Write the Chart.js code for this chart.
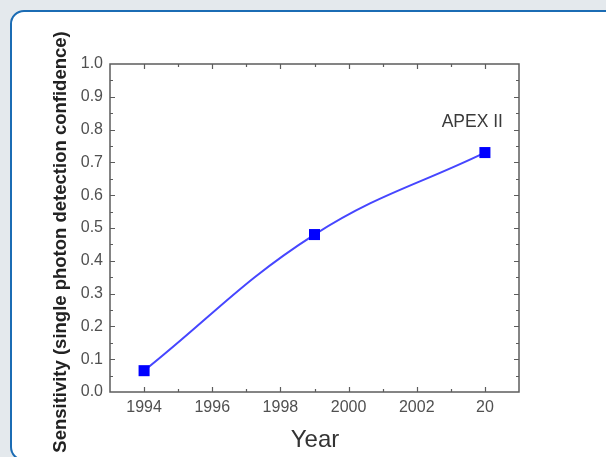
<!DOCTYPE html>
<html>
<head>
<meta charset="utf-8">
<script src="https://cdn.jsdelivr.net/npm/chart.js@4.4.0/dist/chart.umd.min.js"></script>
<style>
  html, body { margin: 0; padding: 0; }
  body { width: 606px; height: 457px; background: #e4e9ed; overflow: hidden; position: relative; }
  .panel { position: absolute; left: 10px; top: 10px; width: 610px; height: 451px; background: #fff;
           border: 2px solid #1b6cb4; border-radius: 14px; box-sizing: border-box; }
  #chart { position: absolute; left: 0; top: 0; }
</style>
</head>
<body>
<div class="panel"></div>
<canvas id="chart" width="606" height="457"></canvas>
<script>
// Sensitivity by year
const years = [1994, 1999, 2004]
const sensitivity = [0.065, 0.48, 0.73]

// axis ticks
const xTickValues = [1994, 1996, 1998, 2000, 2002, 2004]
const xTickLabels = ['1994', '1996', '1998', '2000', '2002', '20']
const yTickValues = [0, 0.1, 0.2, 0.3, 0.4, 0.5, 0.6, 0.7, 0.8, 0.9, 1.0]
const yTickLabels = ['0.0', '0.1', '0.2', '0.3', '0.4', '0.5', '0.6', '0.7', '0.8', '0.9', '1.0']

const xMin = 1993
const xMax = 2005
const pointLabel = 'APEX II'
const xTitle = 'Year'
const yTitle = 'Sensitivity (single photon detection confidence)'

const FONT = "'Liberation Sans', Arial, sans-serif"

// frame box + inward ticks on all four sides (origin style)
const frameTicks = {
  id: 'frameTicks',
  beforeDatasetsDraw(chart) {
    const { ctx, chartArea: a, scales: { x, y } } = chart
    ctx.save()
    ctx.strokeStyle = '#5c5c5c'
    ctx.lineWidth = 1.5
    ctx.strokeRect(a.left, a.top, a.right - a.left, a.bottom - a.top)
    ctx.beginPath()
    for (let v = xMin + 1; v < xMax; v++) {
      const len = xTickValues.includes(v) ? 5 : 3
      const px = Math.round(x.getPixelForValue(v)) + 0.5
      ctx.moveTo(px, a.bottom); ctx.lineTo(px, a.bottom - len)
      ctx.moveTo(px, a.top); ctx.lineTo(px, a.top + len)
    }
    for (let i = 1; i < 20; i++) {
      const len = i % 2 === 0 ? 5 : 3
      const py = Math.round(y.getPixelForValue(i * 0.05)) + 0.5
      ctx.moveTo(a.left, py); ctx.lineTo(a.left + len, py)
      ctx.moveTo(a.right, py); ctx.lineTo(a.right - len, py)
    }
    ctx.lineWidth = 1.2
    ctx.stroke()
    ctx.restore()
  },
  afterDraw(chart) {
    const { ctx, scales: { x, y } } = chart
    ctx.save()
    // y title
    ctx.fillStyle = '#222'
    ctx.font = 'bold 18.5px ' + FONT
    ctx.textAlign = 'center'
    ctx.textBaseline = 'middle'
    ctx.translate(61, 242)
    ctx.rotate(-Math.PI / 2)
    ctx.fillText(yTitle, 0, 0)
    ctx.restore()

    ctx.save()
    ctx.fillStyle = '#333'
    ctx.font = '24px ' + FONT
    ctx.textAlign = 'center'
    ctx.textBaseline = 'middle'
    ctx.fillText(xTitle, 315, 440)

    // label next to the last point
    const last = years.length - 1
    const px = x.getPixelForValue(years[last])
    const py = y.getPixelForValue(sensitivity[last])
    ctx.font = '17.5px ' + FONT
    ctx.fillStyle = '#3a3a3a'
    ctx.textAlign = 'right'
    ctx.fillText(pointLabel, px + 18, py - 30)
    ctx.restore()
  },
}

new Chart(document.getElementById('chart'), {
  type: 'line',
  data: {
    datasets: [
      {
        data: years.map((yr, i) => ({ x: yr, y: sensitivity[i] })),
        borderColor: '#4646ff',
        borderWidth: 2,
        tension: 0.4,
        pointStyle: 'rect',
        pointRadius: 7.8,
        pointBackgroundColor: '#0000ff',
        pointBorderColor: '#0000ff',
        pointBorderWidth: 0,
      },
    ],
  },
  options: {
    responsive: false,
    animation: false,
    layout: { padding: { left: 0, top: 64, right: 87, bottom: 0 } },
    plugins: { legend: { display: false }, tooltip: { enabled: false } },
    scales: {
      x: {
        type: 'linear',
        min: xMin,
        max: xMax,
        afterFit: (s) => { s.height = 65 },
        afterBuildTicks: (s) => { s.ticks = xTickValues.map((v) => ({ value: v })) },
        grid: { display: false, drawTicks: false },
        border: { display: false },
        ticks: {
          padding: 6,
          maxRotation: 0,
          autoSkip: false,
          color: '#505050',
          font: { family: FONT, size: 16 },
          callback: (v) => xTickLabels[xTickValues.indexOf(v)],
        },
      },
      y: {
        min: 0,
        max: 1,
        afterFit: (s) => { s.width = 110 },
        afterBuildTicks: (s) => { s.ticks = yTickValues.map((v) => ({ value: v })) },
        grid: { display: false, drawTicks: false },
        border: { display: false },
        ticks: {
          padding: 7,
          autoSkip: false,
          color: '#505050',
          font: { family: FONT, size: 16 },
          callback: (v) => yTickLabels[yTickValues.indexOf(v)],
        },
      },
    },
  },
  plugins: [frameTicks],
})
</script>
</body>
</html>
